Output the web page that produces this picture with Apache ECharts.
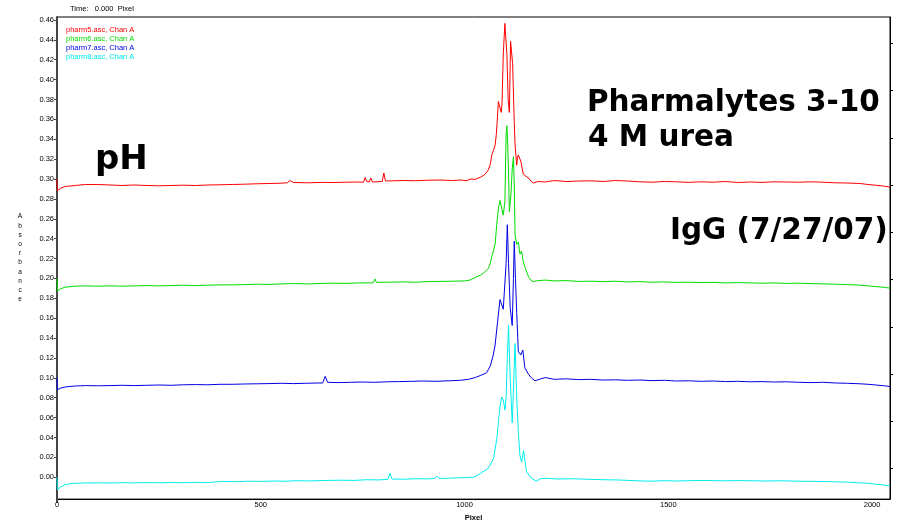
<!DOCTYPE html>
<html>
<head>
<meta charset="utf-8">
<script src="https://cdn.jsdelivr.net/npm/echarts@6/dist/echarts.min.js"></script>
<style>
html,body{margin:0;padding:0;background:#fff;}
#chart{width:903px;height:527px;}
</style>
</head>
<body>
<div id="chart"></div>
<script>
// ---- data ----
const seriesNames = ['pharm5.asc, Chan A', 'pharm6.asc, Chan A', 'pharm7.asc, Chan A', 'pharm8.asc, Chan A'];
const pixelTicks = [0, 500, 1000, 1500, 2000];
const absTicks = [0.00, 0.02, 0.04, 0.06, 0.08, 0.10, 0.12, 0.14, 0.16, 0.18, 0.20, 0.22, 0.24, 0.26, 0.28, 0.30, 0.32, 0.34, 0.36, 0.38, 0.40, 0.42, 0.44, 0.46];
const rightTicks = [1, 2, 3, 4, 5, 6, 7, 8, 9, 10];

const pharm5 = [
  [0,0.300],[1,0.288],[8,0.2905],[20,0.2925],[45,0.2935],[70,0.2945],[100,0.2945],[130,0.294],[160,0.2935],
  [190,0.294],[220,0.2935],[250,0.2932],[280,0.2935],[310,0.2938],[340,0.2935],[370,0.294],[400,0.2942],
  [430,0.2945],[460,0.2948],[490,0.2952],[520,0.2955],[550,0.2958],[565,0.2962],[572,0.2985],[580,0.2965],
  [620,0.2962],[650,0.2966],[680,0.2965],[710,0.2968],[740,0.297],[752,0.2968],[756,0.3015],[760,0.2975],
  [766,0.297],[770,0.301],[774,0.297],[798,0.2975],[802,0.306],[806,0.298],[850,0.2985],[880,0.2983],
  [910,0.2988],[940,0.299],[970,0.2985],[990,0.299],[1005,0.2983],[1015,0.300],[1026,0.2997],
  [1040,0.302],[1050,0.3046],[1058,0.309],[1063,0.3144],[1067,0.3242],[1072,0.330],[1075,0.334],[1078,0.345],
  [1080,0.357],[1083,0.378],[1085,0.375],[1087,0.376],[1090,0.367],[1092,0.376],[1095,0.425],[1099,0.4566],
  [1101,0.455],[1104,0.425],[1107,0.380],[1110,0.367],[1113,0.4385],[1116,0.440],[1118,0.416],[1122,0.357],
  [1124,0.334],[1128,0.314],[1130,0.322],[1132,0.3242],[1136,0.3242],[1138,0.318],[1140,0.314],[1144,0.305],
  [1150,0.303],[1157,0.301],[1163,0.298],[1169,0.296],[1180,0.2975],[1198,0.297],[1220,0.2985],[1250,0.2975],
  [1280,0.298],[1310,0.2982],[1340,0.2975],[1370,0.2985],[1400,0.298],[1430,0.2972],[1460,0.2968],[1490,0.2975],
  [1520,0.2972],[1550,0.2966],[1580,0.2972],[1610,0.2968],[1640,0.2975],[1670,0.2965],[1700,0.297],[1730,0.2966],
  [1760,0.2972],[1790,0.297],[1820,0.2968],[1850,0.2972],[1880,0.2968],[1910,0.2962],[1940,0.296],[1970,0.2955],
  [1990,0.2945],[2010,0.2937],[2030,0.2928],[2044,0.2918]
];

const pharm6 = [
  [0,0.200],[1,0.187],[8,0.1895],[20,0.1912],[45,0.1922],[70,0.1925],[100,0.1922],[130,0.1925],[160,0.1922],
  [190,0.1925],[220,0.1928],[250,0.1925],[280,0.1928],[310,0.1932],[340,0.1928],[370,0.1932],[400,0.1935],
  [430,0.1935],[460,0.1938],[490,0.1942],[520,0.194],[550,0.1945],[580,0.1948],[620,0.1945],[650,0.195],
  [680,0.1952],[710,0.195],[740,0.1955],[770,0.1955],[776,0.1958],[780,0.1995],[784,0.196],[810,0.1962],
  [850,0.1965],[880,0.1962],[910,0.1968],[940,0.197],[970,0.1972],[1000,0.1975],[1015,0.1985],[1026,0.201],
  [1040,0.2035],[1050,0.2066],[1058,0.210],[1063,0.2147],[1067,0.222],[1075,0.2343],[1079,0.254],[1083,0.270],
  [1087,0.2784],[1091,0.277],[1095,0.2637],[1099,0.277],[1102,0.3454],[1104,0.3536],[1106,0.335],[1108,0.306],
  [1110,0.267],[1114,0.285],[1117,0.310],[1120,0.3225],[1122,0.295],[1124,0.244],[1128,0.2343],[1132,0.2365],
  [1136,0.2245],[1140,0.2275],[1144,0.217],[1148,0.2115],[1157,0.2017],[1163,0.198],[1169,0.1968],[1180,0.1978],
  [1198,0.1983],[1220,0.1975],[1250,0.1978],[1280,0.197],[1310,0.1972],[1340,0.1968],[1370,0.1972],[1400,0.1965],
  [1430,0.1968],[1460,0.1962],[1490,0.1965],[1520,0.196],[1550,0.1962],[1580,0.1958],[1610,0.196],[1640,0.1955],
  [1670,0.1958],[1700,0.1955],[1730,0.1952],[1760,0.1955],[1790,0.195],[1820,0.1952],[1850,0.1948],[1880,0.1945],
  [1910,0.1942],[1940,0.1938],[1970,0.1932],[1990,0.1925],[2010,0.1918],[2030,0.191],[2044,0.1902]
];

const pharm7 = [
  [0,0.100],[1,0.088],[8,0.0895],[20,0.0908],[45,0.0918],[70,0.0922],[100,0.092],[130,0.0922],[160,0.0925],
  [190,0.0922],[220,0.0925],[250,0.0928],[280,0.0925],[310,0.093],[340,0.0932],[370,0.093],[400,0.0935],
  [430,0.0935],[460,0.0938],[490,0.094],[520,0.0942],[550,0.0945],[580,0.0942],[610,0.0945],[640,0.0948],
  [652,0.0948],[658,0.1015],[664,0.0955],[690,0.0952],[720,0.0955],[750,0.0958],[780,0.0955],[810,0.096],
  [840,0.0962],[870,0.0965],[900,0.0968],[930,0.0965],[960,0.097],[990,0.0975],[1010,0.0985],[1026,0.1003],
  [1040,0.1025],[1054,0.105],[1063,0.1118],[1070,0.122],[1075,0.133],[1081,0.156],[1087,0.1787],[1091,0.1804],
  [1095,0.169],[1099,0.1675],[1102,0.215],[1105,0.254],[1108,0.215],[1112,0.1706],[1117,0.1526],[1120,0.200],
  [1122,0.2375],[1125,0.200],[1128,0.1657],[1132,0.1265],[1138,0.123],[1143,0.128],[1148,0.110],[1157,0.1036],
  [1165,0.0995],[1173,0.097],[1185,0.0987],[1198,0.1003],[1220,0.0985],[1250,0.099],[1280,0.0982],[1310,0.0985],
  [1340,0.0978],[1370,0.098],[1400,0.0975],[1430,0.0978],[1460,0.0972],[1490,0.0975],[1520,0.0968],[1550,0.097],
  [1580,0.0965],[1610,0.0968],[1640,0.0962],[1670,0.0965],[1700,0.096],[1730,0.0962],[1760,0.0958],[1790,0.096],
  [1820,0.0955],[1850,0.0952],[1880,0.0955],[1910,0.0948],[1940,0.0945],[1970,0.094],[1990,0.0935],[2010,0.0928],
  [2030,0.092],[2044,0.0912]
];

const pharm8 = [
  [0,0.000],[1,-0.0125],[8,-0.010],[20,-0.0075],[40,-0.0062],[70,-0.0058],[100,-0.0056],[130,-0.0058],
  [160,-0.0055],[190,-0.0057],[220,-0.0054],[250,-0.0056],[280,-0.0053],[310,-0.0055],[340,-0.0052],[368,-0.0054],
  [407,-0.0042],[440,-0.0045],[470,-0.004],[500,-0.0042],[530,-0.0038],[560,-0.004],[590,-0.0035],[620,-0.0037],
  [650,-0.0033],[695,-0.003],[730,-0.0032],[760,-0.0025],[790,-0.0027],[812,-0.0022],[817,0.0040],[822,-0.0018],
  [850,-0.002],[880,-0.0015],[910,-0.0017],[926,-0.0012],[932,0.0012],[938,-0.0012],[960,-0.001],[990,-0.0005],
  [1021,0.000],[1026,0.0007],[1040,0.004],[1058,0.0088],[1071,0.0186],[1079,0.038],[1083,0.055],[1087,0.0709],
  [1091,0.0807],[1095,0.078],[1099,0.0676],[1102,0.080],[1105,0.120],[1108,0.1526],[1112,0.1003],[1117,0.0546],
  [1121,0.100],[1124,0.1346],[1128,0.080],[1132,0.045],[1136,0.0219],[1140,0.015],[1145,0.0268],[1152,0.0055],
  [1164,-0.001],[1176,-0.004],[1186,-0.0015],[1198,-0.001],[1230,-0.0018],[1260,-0.0015],[1300,-0.002],
  [1340,-0.0025],[1380,-0.0028],[1420,-0.0035],[1455,-0.004],[1490,-0.0035],[1520,-0.0038],[1550,-0.0035],
  [1590,-0.0032],[1630,-0.0036],[1670,-0.0034],[1700,-0.0035],[1740,-0.0038],[1780,-0.0036],[1820,-0.004],
  [1865,-0.0042],[1900,-0.0045],[1940,-0.005],[1988,-0.006],[2020,-0.0075],[2044,-0.0085]
];

const traces = [pharm5, pharm6, pharm7, pharm8];
const colors = ['#ff0000', '#00dd00', '#0000e6', '#00eeee'];

// ---- chart ----
const chart = echarts.init(document.getElementById('chart'), null, {renderer: 'canvas'});
const smallFont = 'Liberation Sans, Arial, sans-serif';
const bigFont = 'DejaVu Sans, Verdana, sans-serif';

const option = {
  animation: false,
  backgroundColor: '#ffffff',
  grid: {left: 57, right: 13, top: 17, bottom: 17, show: true, borderColor: '#000', borderWidth: 1, backgroundColor: 'transparent'},
  legend: {
    show: true,
    orient: 'vertical',
    left: 55,
    top: 20,
    itemGap: 0,
    itemWidth: 1,
    itemHeight: 1,
    icon: 'rect',
    itemStyle: {opacity: 0},
    lineStyle: {opacity: 0},
    selectedMode: false,
    textStyle: {fontSize: 7.5, fontFamily: smallFont, lineHeight: 9, padding: [0, 0, 0, 0]},
    data: seriesNames.map((n, i) => ({name: n, textStyle: {color: colors[i]}}))
  },
  xAxis: {
    type: 'value',
    min: 0,
    max: 2044,
    interval: 500,
    name: 'Pixel',
    nameLocation: 'middle',
    nameGap: 11,
    nameTextStyle: {fontSize: 7.5, fontFamily: smallFont, color: '#000', fontWeight: 'bold'},
    axisLine: {show: true, onZero: false, lineStyle: {color: '#000', width: 1}},
    axisTick: {show: true, customValues: [0], length: 4, lineStyle: {color: '#444', width: 2}},
    axisLabel: {customValues: pixelTicks, fontSize: 7.5, fontFamily: smallFont, color: '#000', margin: 2, formatter: v => String(v)},
    splitLine: {show: false}
  },
  yAxis: [{
    type: 'value',
    min: -0.022,
    max: 0.463,
    name: 'A\nb\ns\no\nr\nb\na\nn\nc\ne',
    nameLocation: 'middle',
    nameGap: 37,
    nameRotate: 0,
    nameTextStyle: {fontSize: 6.5, fontFamily: smallFont, color: '#000', lineHeight: 9.2, align: 'center'},
    axisLine: {show: true, onZero: false, lineStyle: {color: '#444', width: 2}},
    axisTick: {show: true, customValues: absTicks, length: 3, lineStyle: {color: '#444', width: 1}},
    axisLabel: {customValues: absTicks, fontSize: 7.5, fontFamily: smallFont, color: '#000', margin: 3, formatter: v => v.toFixed(2)},
    splitLine: {show: false}
  }, {
    type: 'value',
    position: 'right',
    min: 0.352,
    max: 10.56,
    axisLine: {show: true, onZero: false, lineStyle: {color: '#000', width: 1}},
    axisTick: {show: true, customValues: rightTicks, length: 3, lineStyle: {color: '#000', width: 1}},
    axisLabel: {show: false},
    splitLine: {show: false}
  }],
  graphic: [
    {type: 'text', left: 70, top: 5, style: {text: 'Time:   0.000  Pixel', font: '7.5px ' + smallFont, fill: '#000'}},
    {type: 'text', x: 95, y: 160, style: {text: 'pH', font: 'bold 34px ' + bigFont, fill: '#000', verticalAlign: 'middle', align: 'left'}},
    {type: 'text', x: 587, y: 103.5, style: {text: 'Pharmalytes 3-10', font: 'bold 29.5px ' + bigFont, fill: '#000', verticalAlign: 'middle', align: 'left'}},
    {type: 'text', x: 588, y: 138, style: {text: '4 M urea', font: 'bold 29.5px ' + bigFont, fill: '#000', verticalAlign: 'middle', align: 'left'}},
    {type: 'text', x: 670, y: 231, style: {text: 'IgG (7/27/07)', font: 'bold 29.5px ' + bigFont, fill: '#000', verticalAlign: 'middle', align: 'left'}}
  ],
  series: traces.map((d, i) => ({
    name: seriesNames[i],
    type: 'line',
    data: d,
    showSymbol: false,
    symbol: 'none',
    smooth: false,
    lineStyle: {color: colors[i], width: 1},
    itemStyle: {color: colors[i]},
    emphasis: {disabled: true},
    z: 3
  }))
};
chart.setOption(option);
</script>
</body>
</html>
